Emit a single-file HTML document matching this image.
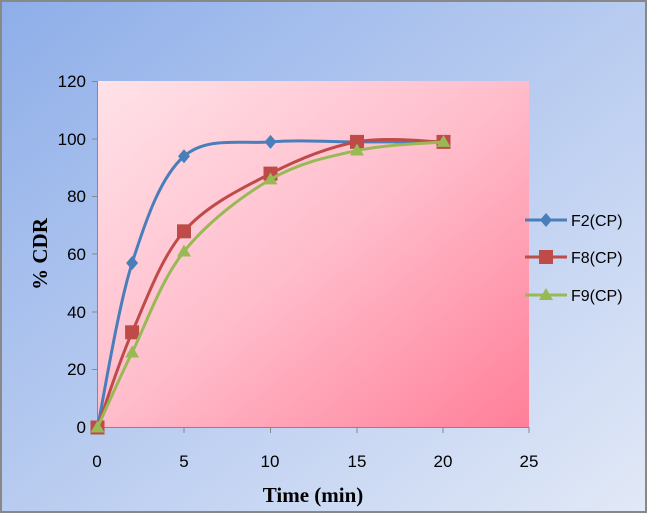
<!DOCTYPE html>
<html><head><meta charset="utf-8"><style>
html,body{margin:0;padding:0}
body{width:647px;height:513px;overflow:hidden}
</style></head><body>
<svg id="s" width="647" height="513" xmlns="http://www.w3.org/2000/svg" font-family="Liberation Sans, sans-serif">
<defs>
<linearGradient id="bg" x1="0" y1="0" x2="1" y2="1">
<stop offset="0" stop-color="#8eaee9"/><stop offset="1" stop-color="#e2e9f7"/></linearGradient>
<linearGradient id="pa" x1="0" y1="0" x2="1" y2="1">
<stop offset="0" stop-color="#ffe2e8"/><stop offset="0.5" stop-color="#ffbccb"/><stop offset="1" stop-color="#ff7f98"/></linearGradient>
</defs>
<rect x="0" y="0" width="647" height="513" fill="url(#bg)"/>
<rect x="1" y="1" width="645" height="511" fill="none" stroke="#888" stroke-width="2"/>
<rect x="98" y="81" width="431" height="346" fill="url(#pa)"/>
<g stroke="#888" stroke-width="1" fill="none">
<path d="M97.5 81V427.5H529"/>
<path d="M92 81.5h6M92 139h6M92 196.5h6M92 254h6M92 312h6M92 369.5h6M92 427.5h6"/>
<path d="M97.5 427v6M184 427v6M270.5 427v6M357 427v6M443 427v6M529 427v6"/>
</g>
<g font-size="17" fill="#000" text-anchor="end">
<text x="86" y="87">120</text><text x="86" y="145">100</text><text x="86" y="202">80</text>
<text x="86" y="260">60</text><text x="86" y="318">40</text><text x="86" y="375">20</text><text x="86" y="433">0</text>
</g>
<g font-size="17" fill="#000" text-anchor="middle">
<text x="97" y="467">0</text><text x="184" y="467">5</text><text x="270" y="467">10</text>
<text x="357" y="467">15</text><text x="443" y="467">20</text><text x="529" y="467">25</text>
</g>
<text x="313" y="502" font-family="Liberation Serif, serif" font-weight="bold" font-size="21" text-anchor="middle">Time (min)</text>
<text transform="translate(47,254) rotate(-90)" font-family="Liberation Serif, serif" font-weight="bold" font-size="21" text-anchor="middle">% CDR</text>
<g id="series"></g>
<g font-size="16" fill="#000">
<line x1="525" y1="220" x2="567" y2="220" stroke="#4a7ebb" stroke-width="3"/>
<path d="M546 213l6 7-6 7-6-7z" fill="#4a7ebb"/>
<text x="571" y="226">F2(CP)</text>
<line x1="525" y1="257" x2="567" y2="257" stroke="#be4b48" stroke-width="3"/>
<rect x="539" y="250" width="14" height="14" fill="#be4b48"/>
<text x="571" y="263">F8(CP)</text>
<line x1="525" y1="295" x2="567" y2="295" stroke="#98b954" stroke-width="3"/>
<path d="M546 288l7 12h-14z" fill="#98b954"/>
<text x="571" y="301">F9(CP)</text>
</g>
</svg>
<script>
var X=function(t){return 97.5+t*17.3},Y=function(v){return 427.5-v*2.885};
var xs=[0,2,5,10,15,20];
var S=[["#4a7ebb",[0,57,94,99,99,99],"d"],["#be4b48",[0,33,68,88,99,99],"s"],["#98b954",[0,26,61,86,96,99],"t"]];
var g=document.getElementById("series"),h="";
S.forEach(function(s){
 var p=xs.map(function(x,i){return [X(x),Y(s[1][i])]});
 var d="M"+p[0][0]+" "+p[0][1];
 for(var i=0;i<p.length-1;i++){
  var a=p[i-1]||p[i],b=p[i],c=p[i+1],e=p[i+2]||c,k=6;
  d+="C"+(b[0]+(c[0]-a[0])/k)+" "+(b[1]+(c[1]-a[1])/k)+" "+(c[0]-(e[0]-b[0])/k)+" "+(c[1]-(e[1]-b[1])/k)+" "+c[0]+" "+c[1];
 }
 h+='<path d="'+d+'" fill="none" stroke="'+s[0]+'" stroke-width="3"/>';
 p.forEach(function(q){
  var x=q[0],y=q[1];
  if(s[2]=="d")h+='<path d="M'+x+' '+(y-7)+'l6 7-6 7-6-7z" fill="'+s[0]+'"/>';
  else if(s[2]=="s")h+='<rect x="'+(x-7)+'" y="'+(y-7)+'" width="14" height="14" fill="'+s[0]+'"/>';
  else h+='<path d="M'+x+' '+(y-7)+'l7 12h-14z" fill="'+s[0]+'"/>';
 });
});
g.innerHTML=h;
</script>
</body></html>
